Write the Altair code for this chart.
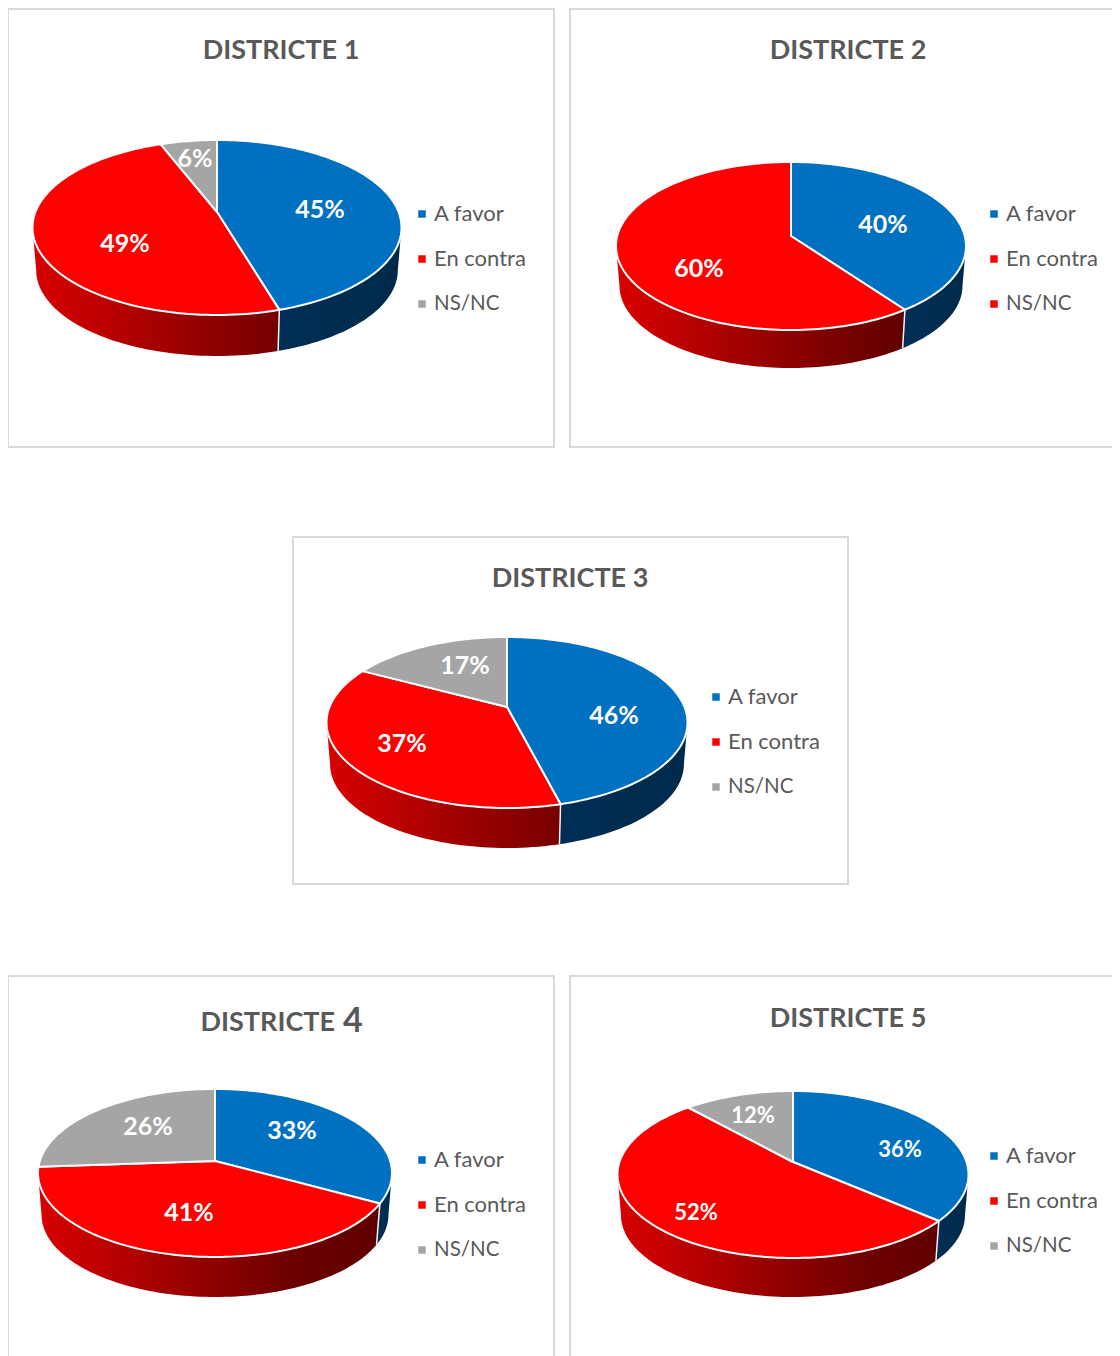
import math
import altair as alt
import pandas as pd

FONT = "Lato"
TEXT_COLOR = "#595959"
FRAME_COLOR = "#d9d9d9"
COLORS = ["#0070C0", "#FF0000", "#A5A5A5"]

categories = ["A favor", "En contra", "NS/NC"]
legend_sizes = [22, 22, 20.5]
titles = ["DISTRICTE 1", "DISTRICTE 2", "DISTRICTE 3", "DISTRICTE ", "DISTRICTE 5"]
a_favor = [45.4, 39.9, 46.0, 33.0, 36.3]
en_contra = [48.7, 60.1, 36.8, 40.9, 52.0]
ns_nc = [5.9, 0.0, 17.2, 26.1, 11.7]

# layout: page pixel positions of each panel
frames = [(8, 9, 554, 447), (570, 9, 1135, 447), (293, 537, 848, 884),
          (8, 976, 554, 1375), (570, 976, 1135, 1375)]
vertex = [(217, 212), (791, 236), (507, 707), (215, 1161), (793, 1162)]
top_y = [140, 162, 637, 1089, 1091]
front_y = [315, 330, 808, 1257, 1258]
half_w = [184.5, 175, 180.5, 177, 175.5]
depth = [41, 38, 40, 40, 39]
title_pos = [(281, 51), (848, 51), (570, 579), (281, 1022), (848, 1019)]
legend_x = [422, 994, 716, 422, 994]
legend_y = [214, 214, 697, 1160, 1156]
legend_step = 45
label_pos = [
    [(320, 210), (125, 244), (195, 159)],
    [(883, 225), (699, 269), None],
    [(614, 716), (402, 744), (465, 666)],
    [(292, 1131), (189, 1213), (148, 1127)],
    [(900, 1150), (696, 1213), (753, 1116)],
]
label_size = [25, 25, 25, 25, 22]
legend_colors = [COLORS, [COLORS[0], COLORS[1], COLORS[1]], COLORS, COLORS, COLORS]

X = alt.X("x:Q", axis=None, scale=alt.Scale(domain=[8, 1112], nice=False, zero=False))
Y = alt.Y("y:Q", axis=None, scale=alt.Scale(domain=[1356, 8], nice=False, zero=False))
X2 = alt.X2("x2:Q")
Y2 = alt.Y2("y2:Q")


def projector(i):
    """Perspective view of a unit disc seen at an angle, as Excel's 3-D pie draws it."""
    x0, y0 = vertex[i]
    up, down = y0 - top_y[i], front_y[i] - y0
    k = (down - up) / (down + up)
    a = up * (1 + k)
    b = half_w[i] * math.sqrt(1 - k * k)

    def rim(t, lower=False):
        r = math.radians(t)
        u, v = math.sin(r), -math.cos(r)
        w = 1 - k * v
        dx, dy = b * u / w, a * v / w
        if lower:
            s = 0.98
            return x0 + s * dx, y0 + s * dy + depth[i] + 0.02 * down
        return x0 + dx, y0 + dy

    # the angle at which the rim is widest: the wall's visible edge starts there
    return rim, math.degrees(math.acos(-k))


def steps(a, b):
    n = max(2, int(abs(b - a) / 1.5) + 1)
    return [a + (b - a) * j / n for j in range(n + 1)]


def shade(p):
    p = max(0, min(1, p))
    if p >= 0.8:
        return "#600000"
    return "#%02x0000" % round(0xD8 + (0x60 - 0xD8) * p / 0.8)


def polygon(points):
    return pd.DataFrame([{"i": j, "x": p[0], "y": p[1]} for j, p in enumerate(points)])


def poly_layer(points, **style):
    return alt.Chart(polygon(points)).mark_line(
        clip=True, interpolate="linear-closed", **style
    ).encode(x=X, y=Y, order="i:Q")


frame_layer = alt.Chart(pd.DataFrame(
    [{"x": f[0], "y": f[1], "x2": f[2], "y2": f[3]} for f in frames]
)).mark_rect(clip=True, fill="white", stroke=FRAME_COLOR, strokeWidth=2).encode(x=X, y=Y, x2=X2, y2=Y2)

layers = [frame_layer]
title_rows, legend_rows, marker_rows, label_rows = [], [], [], []

for i in range(5):
    rim, widest = projector(i)
    values = [a_favor[i], en_contra[i], ns_nc[i]]
    left, right = vertex[i][0] - half_w[i], vertex[i][0] + half_w[i]
    start = 0.0
    spans = []
    for v in values:
        spans.append((start, start + v * 3.6))
        start += v * 3.6

    for s, (a, b) in enumerate(spans):
        lo, hi = max(a, widest), min(b, 360 - widest)
        if hi <= lo or b == a:
            continue
        ts = steps(lo, hi)
        points = [rim(t) for t in ts] + [rim(t, True) for t in reversed(ts)]
        xs = [p[0] for p in points]
        if s == 0:
            stops = [("#002E55", 0), ("#002A4A", 1)]
        elif s == 1:
            p0 = (min(xs) - left) / (right - left)
            p1 = (max(xs) - left) / (right - left)
            stops = [(shade(p0 + (p1 - p0) * f), f) for f in (0, 0.25, 0.5, 0.75, 1)]
        else:
            stops = [("#6a6a6a", 0), ("#6a6a6a", 1)]
        grad = alt.LinearGradient(
            gradient="linear", x1=0, y1=0, x2=1, y2=0,
            stops=[alt.GradientStop(color=c, offset=o) for c, o in stops],
        )
        layers.append(poly_layer(points, fill=grad, strokeWidth=0))

    for a, b in spans:
        if a != b and widest < b < 360 - widest:
            layers.append(alt.Chart(polygon([rim(b), rim(b, True)])).mark_line(
                clip=True, color="#f4f4f4", strokeWidth=1.5
            ).encode(x=X, y=Y, order="i:Q"))

    for s, (a, b) in enumerate(spans):
        if b == a:
            continue
        pts = [vertex[i]] + [rim(t) for t in steps(a, b)]
        layers.append(poly_layer(pts, fill=COLORS[s], stroke="white", strokeWidth=2,
                                 strokeJoin="round"))

    for s, v in enumerate(values):
        if label_pos[i][s] is not None:
            label_rows.append({"x": label_pos[i][s][0], "y": label_pos[i][s][1],
                               "text": f"{round(v)}%", "size": label_size[i]})
    for s, name in enumerate(categories):
        my = legend_y[i] + s * legend_step
        marker_rows.append({"x": legend_x[i], "y": my, "c": legend_colors[i][s]})
        legend_rows.append({"x": legend_x[i] + 12, "y": my, "text": name, "size": legend_sizes[s]})

for i, t in enumerate(titles):
    if i != 3:
        title_rows.append({"x": title_pos[i][0], "y": title_pos[i][1], "text": t})

layers.append(alt.Chart(pd.DataFrame(title_rows)).mark_text(
    font=FONT, fontWeight="bold", fontSize=27, color=TEXT_COLOR, align="center", baseline="middle"
).encode(x=X, y=Y, text="text:N"))
# District 4 has its numeral set larger than the rest of the title
layers.append(alt.Chart(pd.DataFrame([{"x": 335, "y": title_pos[3][1] + 1, "text": "DISTRICTE"}])).mark_text(
    font=FONT, fontWeight="bold", fontSize=27, color=TEXT_COLOR, align="right", baseline="middle"
).encode(x=X, y=Y, text="text:N"))
layers.append(alt.Chart(pd.DataFrame([{"x": 343, "y": title_pos[3][1] - 0, "text": "4"}])).mark_text(
    font=FONT, fontWeight="bold", fontSize=34, color=TEXT_COLOR, align="left", baseline="middle"
).encode(x=X, y=Y, text="text:N"))

layers.append(alt.Chart(pd.DataFrame(label_rows)).mark_text(
    font=FONT, fontWeight="bold", color="white", align="center", baseline="middle"
).encode(x=X, y=Y, text="text:N", size=alt.Size("size:Q", scale=None, legend=None)))
layers.append(alt.Chart(pd.DataFrame(marker_rows)).mark_square(size=56, opacity=1).encode(
    x=X, y=Y, color=alt.Color("c:N", scale=None, legend=None)))
layers.append(alt.Chart(pd.DataFrame(legend_rows)).mark_text(
    font=FONT, color=TEXT_COLOR, align="left", baseline="middle"
).encode(x=X, y=Y, text="text:N", size=alt.Size("size:Q", scale=None, legend=None)))

chart = alt.layer(*layers).properties(
    width=1104, height=1348, padding=0, background="white",
    autosize=alt.AutoSizeParams(type="none"),
).configure_view(stroke=None)

chart.save("out.html", embed_options={"renderer": "svg", "actions": False})
